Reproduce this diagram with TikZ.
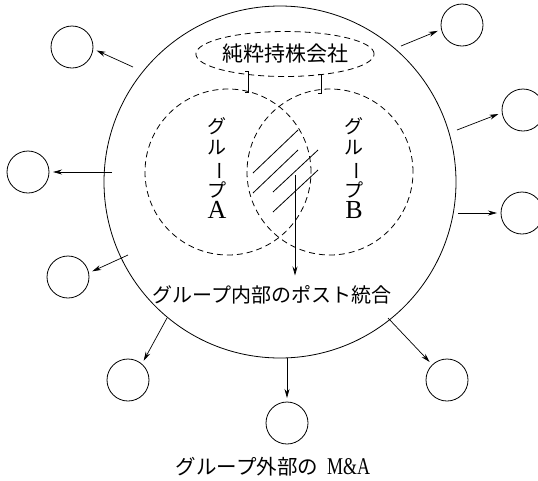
\documentclass[tikz,border=0pt]{standalone}
\usepackage{fontspec}
\setmainfont{Liberation Serif}
\newfontfamily\cjk{Noto Sans CJK JP}
\newfontfamily\lat{Liberation Serif}
\usetikzlibrary{arrows.meta,shapes.geometric}
\begin{document}
\begin{tikzpicture}[x=1pt,y=-1pt,
  smallc/.style={circle,draw,line width=0.8pt,minimum size=42pt,inner sep=0pt,outer sep=0pt},
  dashln/.style={draw,dash pattern=on 6pt off 4pt,line width=0.8pt},
  arr/.style={-{Stealth[length=9pt,width=5pt]},line width=0.7pt,shorten >=4pt},
  jtxt/.style={font=\cjk\fontsize{20}{22}\selectfont,inner sep=0pt},
  vtxt/.style={font=\cjk\fontsize{19}{21}\selectfont,inner sep=0pt,align=center},
  hatch/.style={line width=0.8pt}]
\useasboundingbox (0,0) rectangle (538,480);
% big circle
\node[circle,draw,line width=0.8pt,minimum size=352pt,inner sep=0pt,outer sep=0pt] (big) at (280,182) {};
% holding company ellipse
\node[ellipse,dashln,minimum width=168pt,minimum height=45pt,inner sep=0pt,
      font=\cjk\fontsize{21}{23}\selectfont] (hold) at (285,54) {純粋持株会社};
% group circles
\node[circle,dashln,minimum size=166pt,inner sep=0pt] (ga) at (228,172) {};
\node[circle,dashln,minimum size=166pt,inner sep=0pt] (gb) at (330,172) {};
% connectors holding -> groups
\coordinate (c1t) at (248,71);
\coordinate (c1b) at (248,92);
\coordinate (c2t) at (321,74);
\coordinate (c2b) at (321,93);
\draw[line width=0.8pt] ([xshift=-3pt]c1t) -- (c1t) -- (c1b) -- ([xshift=-3pt]c1b);
\draw[line width=0.8pt] ([xshift=-3pt]c2t) -- (c2t) -- (c2b) -- ([xshift=-3pt]c2b);
% vertical labels
\node[vtxt] (la) at (217,168) {グ\\ル\\\rotatebox[origin=c]{-90}{ー}\\プ\\{\lat\fontsize{26}{21}\selectfont A}};
\node[vtxt] (lb) at (354,168) {グ\\ル\\\rotatebox[origin=c]{-90}{ー}\\プ\\{\lat\fontsize{26}{21}\selectfont B}};
% hatching
\draw[hatch] (253,173) -- (298,130);
\draw[hatch] (253,193) -- (298,150);
\draw[hatch] (273,192) -- (318,150);
\draw[hatch] (273,212) -- (318,170);
% internal integration
\node[jtxt] (inner) at (272,295) {グループ内部のポスト統合};
\coordinate (hs) at (295,175);
\draw[arr,shorten >=10pt] (hs) -- (hs |- inner.north);
% external circles
\node[smallc] (s1) at (72,47) {};
\node[smallc] (s2) at (28,172) {};
\node[smallc] (s3) at (68,277) {};
\node[smallc] (s4) at (128,380) {};
\node[smallc] (s5) at (287,423) {};
\node[smallc] (s6) at (447,380) {};
\node[smallc] (s7) at (522,213) {};
\node[smallc] (s8) at (523,110) {};
\node[smallc] (s9) at (462,25) {};
\coordinate (a1) at (133,67);
\coordinate (a2) at (112,172);
\coordinate (a3) at (128,255);
\coordinate (a4) at (167,318);
\coordinate (a5) at (287,358);
\coordinate (a6) at (388,318);
\coordinate (a7) at (458,213);
\coordinate (a8) at (457,130);
\coordinate (a9) at (401,46);
\draw[arr] (a1) -- (s1.-5);
\draw[arr] (a2) -- (s2.0);
\draw[arr] (a3) -- (s3.11);
\draw[arr] (a4) -- (s4.49);
\draw[arr] (a5) -- (s5.90);
\draw[arr] (a6) -- (s6.134);
\draw[arr] (a7) -- (s7.180);
\draw[arr] (a8) -- (s8.187);
\draw[arr] (a9) -- (s9.192);
% bottom caption
\node[jtxt,font=\cjk\fontsize{20.5}{22}\selectfont] (outer) at (273,467) {グループ外部の\hspace{9pt}\scalebox{0.75}[1]{\lat\fontsize{24}{24}\selectfont M\&A}};
\end{tikzpicture}
\end{document}
